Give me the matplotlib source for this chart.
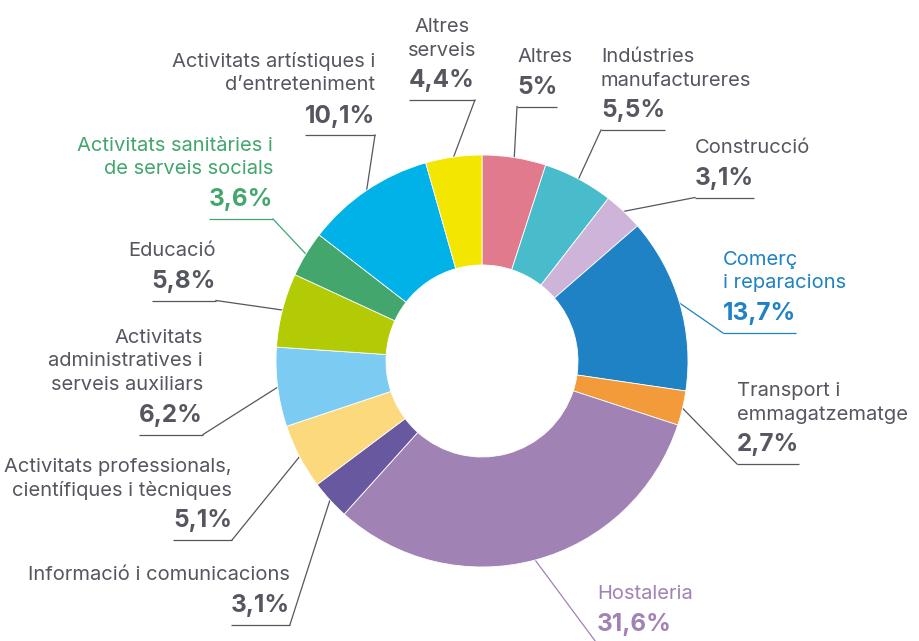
import math
import matplotlib.pyplot as plt

# sectors clockwise from 12 o'clock
sectors = [
    "Altres",
    "Indústries\nmanufactureres",
    "Construcció",
    "Comerç\ni reparacions",
    "Transport i\nemmagatzematge",
    "Hostaleria",
    "Informació i comunicacions",
    "Activitats professionals,\ncientífiques i tècniques",
    "Activitats\nadministratives i\nserveis auxiliars",
    "Educació",
    "Activitats sanitàries i\nde serveis socials",
    "Activitats artístiques i\nd’entreteniment",
    "Altres\nserveis",
]
shares = [5, 5.5, 3.1, 13.7, 2.7, 31.6, 3.1, 5.1, 6.2, 5.8, 3.6, 10.1, 4.4]
colors = [
    "#e27a8d", "#48bccb", "#cdb4d8", "#1f82c4", "#f39a3a", "#a182b4",
    "#6858a0", "#fdd97d", "#7ccbf2", "#b2cb05", "#43a66c", "#00b2e8",
    "#f3e600",
]
GRAY = "#55565f"
text_colors = [GRAY, GRAY, GRAY, "#1f82c4", GRAY, "#a182b4", GRAY, GRAY,
               GRAY, GRAY, "#43a66c", GRAY, GRAY]

# label anchors in pixels from top-left: x, first baseline, alignment
label_pos = [
    (517, 62, "left"),
    (601, 62, "left"),
    (695, 153, "left"),
    (723, 265, "left"),
    (737, 396, "left"),
    (597, 599, "left"),
    (290, 580, "right"),
    (232, 472, "right"),
    (203, 343, "right"),
    (216, 256, "right"),
    (273, 151, "right"),
    (375, 67, "right"),
    (442, 32, "center"),
]

FONT = ["Inter", "DejaVu Sans"]
W, H = 920, 641
cx, cy = 482, 361
R = 206

fig = plt.figure(figsize=(W / 100, H / 100), dpi=100)
ax = fig.add_axes([0, 0, 1, 1])

wedges, _ = ax.pie(shares, colors=colors, startangle=90, counterclock=False,
                   radius=R, center=(cx, H - cy),
                   wedgeprops=dict(width=110, edgecolor="white", linewidth=0.6))
ax.set_xlim(0, W)
ax.set_ylim(0, H)
ax.set_aspect("equal")
ax.axis("off")

pct_texts = []
for name, val, (x, y, ha), tc in zip(sectors, shares, label_pos, text_colors):
    lines = name.split("\n")
    for i, line in enumerate(lines):
        ax.text(x, H - (y + i * 23.5), line, ha=ha, va="baseline",
                fontsize=14.5, color=tc, family=FONT)
    pct = f"{val:g}".replace(".", ",") + "%"
    yp = y + (len(lines) - 1) * 23.5 + 32
    t = ax.text(x, H - yp, pct, ha=ha, va="baseline", fontsize=17.5,
                fontweight="bold", color=tc, family=FONT)
    pct_texts.append((t, yp))

fig.canvas.draw()
renderer = fig.canvas.get_renderer()
inv = ax.transData.inverted()

for w, (t, yp), tc in zip(wedges, pct_texts, text_colors):
    bb = t.get_window_extent(renderer)
    (x0, _), (x1, _) = inv.transform([(bb.x0, bb.y0), (bb.x1, bb.y1)])
    yu = H - (yp + 12.5)
    ax.plot([x0, x1], [yu, yu], color=tc, lw=0.9, zorder=0.5,
            solid_capstyle="butt")
    mid = math.radians((w.theta1 + w.theta2) / 2)
    rx = cx + R * math.cos(mid)
    ry = (H - cy) + R * math.sin(mid)
    inner = x0 if abs(x0 - cx) < abs(x1 - cx) else x1
    ax.plot([inner, rx], [yu, ry], color=tc, lw=0.9, zorder=0.5)

fig.savefig("out.png", dpi=100)
